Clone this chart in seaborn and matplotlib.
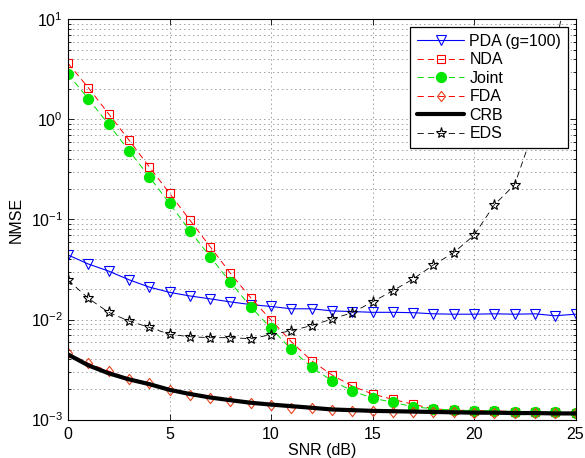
import matplotlib
matplotlib.use("Agg")
import matplotlib.pyplot as plt
import seaborn as sns
import pandas as pd
from matplotlib.ticker import LogLocator, NullFormatter, FixedLocator, NullLocator

# SNR grid (dB)
snr_db = list(range(26))

# NMSE curves
pda = [0.0442, 0.0359, 0.0305, 0.0250, 0.0211, 0.0187, 0.0172, 0.0161, 0.0150, 0.0141,
       0.0135, 0.0128, 0.0128, 0.0122, 0.0120, 0.0118, 0.0118, 0.0117, 0.0114, 0.0113,
       0.0113, 0.0114, 0.0113, 0.0114, 0.0109, 0.0113]
nda = [3.65, 2.08, 1.14, 0.624, 0.337, 0.183, 0.0989, 0.0535, 0.0290, 0.0165,
       0.0099, 0.0060, 0.00387, 0.00279, 0.00216, 0.00180, 0.00159, 0.00142, 0.00128, 0.00124,
       0.00123, 0.00122, 0.00120, 0.00119, 0.00118, 0.00117]
joint = [2.85, 1.61, 0.895, 0.488, 0.268, 0.145, 0.0773, 0.0425, 0.0236, 0.0134,
         0.00817, 0.00504, 0.00333, 0.00244, 0.00194, 0.00163, 0.00149, 0.00134, 0.00128, 0.00124,
         0.00123, 0.00122, 0.00120, 0.00119, 0.00118, 0.00117]
fda = [0.00460, 0.00365, 0.00305, 0.00256, 0.00232, 0.00197, 0.00176, 0.00165, 0.00154, 0.00145,
       0.00140, 0.00131, 0.00129, 0.00124, 0.00122, 0.00122, 0.00120, 0.00120, 0.00119, 0.00119,
       0.00117, 0.00117, 0.00117, 0.00117, 0.00117, 0.00117]
crb = [0.00447, 0.00348, 0.00290, 0.00252, 0.00226, 0.00198, 0.00180, 0.00166, 0.00156, 0.00147,
       0.00141, 0.00136, 0.00131, 0.00126, 0.00124, 0.00122, 0.00121, 0.00120, 0.00119, 0.00118,
       0.00117, 0.00117, 0.00116, 0.00116, 0.00115, 0.00115]
eds = [0.0248, 0.0163, 0.0118, 0.00966, 0.00836, 0.00711, 0.00673, 0.00658, 0.00658, 0.00643,
       0.00705, 0.00773, 0.0087, 0.0101, 0.0117, 0.0150, 0.0194, 0.0254, 0.0351, 0.0466,
       0.0695, 0.140, 0.223, 0.85, 5.0, 60.0]

x_ticks = [0, 5, 10, 15, 20, 25]

sns.set_theme(style="ticks")
plt.rcParams.update({
    "font.family": ["Liberation Sans", "DejaVu Sans"],
    "mathtext.default": "regular",
    "font.size": 11.5,
    "axes.labelsize": 11.5,
    "xtick.labelsize": 11.5,
    "ytick.labelsize": 11.5,
    "legend.fontsize": 11.5,
    "lines.scale_dashes": False,
    "axes.edgecolor": "black",
    "axes.linewidth": 0.8,
    "xtick.color": "black",
    "ytick.color": "black",
    "text.color": "black",
    "axes.labelcolor": "black",
})

fig = plt.figure(figsize=(5.85, 4.58), dpi=100)
fig.patch.set_facecolor("white")
ax = fig.add_axes([68 / 585, 38.5 / 458, 507.5 / 585, 400 / 458])
ax.set_yscale("log")

df = pd.DataFrame({"snr": snr_db, "pda": pda, "nda": nda, "joint": joint,
                   "fda": fda, "crb": crb, "eds": eds})

dash = (0, (4.5, 3.0))
diamond = [(0, 1), (0.78, 0), (0, -1), (-0.78, 0), (0, 1)]

sns.lineplot(data=df, x="snr", y="pda", ax=ax, errorbar=None, color="#0000ff", lw=0.8,
             marker="v", markersize=7, markerfacecolor="none", markeredgecolor="#0000ff",
             markeredgewidth=0.8, label="PDA (g=100)")
sns.lineplot(data=df, x="snr", y="nda", ax=ax, errorbar=None, color="#ff0000", lw=0.7,
             linestyle=dash, marker="s", markersize=6, markerfacecolor="none",
             markeredgecolor="#ff0000", markeredgewidth=0.8, label="NDA")
sns.lineplot(data=df, x="snr", y="joint", ax=ax, errorbar=None, color="#00e000", lw=0.7,
             linestyle=dash, marker="o", markersize=7.3, markerfacecolor="#00e600",
             markeredgecolor="#00e600", markeredgewidth=0.8, label="Joint")
sns.lineplot(data=df, x="snr", y="fda", ax=ax, errorbar=None, color="#ff0000", lw=0.7,
             linestyle=dash, marker=diamond, markersize=7.4, markerfacecolor="none",
             markeredgecolor="#e8421c", markeredgewidth=0.8, label="FDA")
sns.lineplot(data=df, x="snr", y="crb", ax=ax, errorbar=None, color="black", lw=3.0,
             label="CRB")
sns.lineplot(data=df, x="snr", y="eds", ax=ax, errorbar=None, color="black", lw=0.6,
             linestyle=dash, marker="*", markersize=8, markerfacecolor="none",
             markeredgecolor="black", markeredgewidth=0.8, label="EDS")

ax.set_xlim(0, 25)
ax.set_ylim(1e-3, 1e1)
ax.xaxis.set_major_locator(FixedLocator(x_ticks))
ax.xaxis.set_minor_locator(NullLocator())
ax.yaxis.set_major_locator(LogLocator(base=10))
ax.yaxis.set_minor_locator(LogLocator(base=10, subs=range(2, 10)))
ax.yaxis.set_minor_formatter(NullFormatter())

grid_kw = dict(color="#8c8c8c", linestyle=(0, (1.0, 2.2)), linewidth=0.6)
ax.grid(True, which="major", axis="both", **grid_kw)
ax.grid(True, which="minor", axis="y", **grid_kw)
ax.set_axisbelow(True)

ax.tick_params(which="both", direction="in", top=True, right=True, width=0.6)
ax.tick_params(which="major", length=4)
ax.tick_params(which="minor", length=2.5)
ax.tick_params(axis="x", pad=5.4)
ax.tick_params(axis="y", pad=3.5)
for s in ax.spines.values():
    s.set_visible(True)
    s.set_linewidth(0.8)

ax.set_xlabel("SNR (dB)", labelpad=1)
ax.set_ylabel("NMSE", labelpad=5)

leg = ax.legend(loc="upper right", frameon=True, fancybox=False, framealpha=1,
                edgecolor="black", borderpad=0.4, labelspacing=0.22,
                handlelength=3.0, handletextpad=0.3, borderaxespad=0.5)
leg.get_frame().set_linewidth(0.9)

fig.savefig("out.png", dpi=100, facecolor="white")
